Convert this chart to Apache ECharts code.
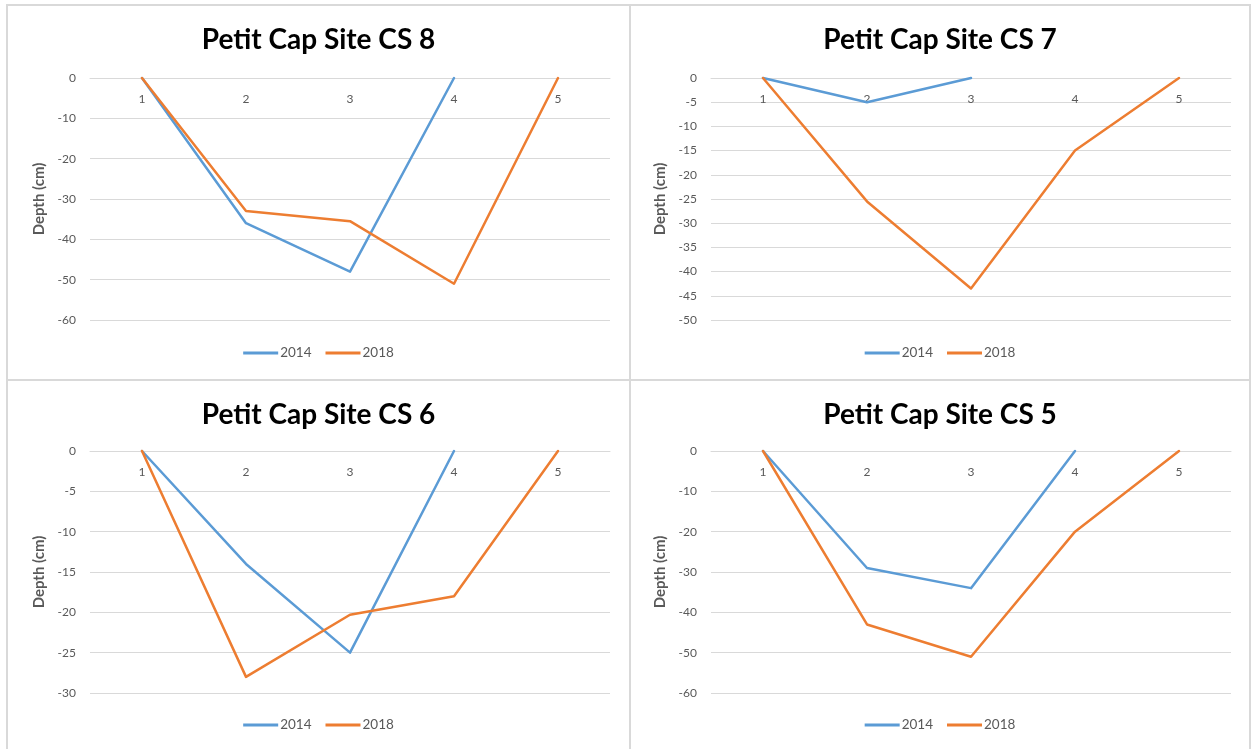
<!DOCTYPE html>
<html>
<head>
<meta charset="utf-8">
<script src="https://cdn.jsdelivr.net/npm/echarts@6/dist/echarts.min.js"></script>
<style>
body{
  margin: 0;
  background: #fff;
}
.out{
  position: relative;
  width: 1251px;
  height: 749px;
  overflow: hidden;
}
.panel{
  position: absolute;
  box-sizing: border-box;
  border: 2px solid #d9d9d9;
}
.chart{
  width: 100%;
  height: 100%;
}
</style>
</head>
<body>
<div class="out">
  <div class="panel" style="left: 6px;top: 4px;width: 625px;height: 377px">
    <div id="cs8_chart" class="chart"></div>
  </div>
  <div class="panel" style="left: 629px;top: 4px;width: 622px;height: 377px">
    <div id="cs7_chart" class="chart"></div>
  </div>
  <div class="panel" style="left: 6px;top: 379px;width: 625px;height: 374px">
    <div id="cs6_chart" class="chart"></div>
  </div>
  <div class="panel" style="left: 629px;top: 379px;width: 622px;height: 374px">
    <div id="cs5_chart" class="chart"></div>
  </div>
</div>
<script>
const categories = ['1', '2', '3', '4', '5']
const years = ['2014', '2018']

// depth values (cm), null = no point
const cs8_2014 = [0, -36, -48, 0, null]
const cs8_2018 = [0, -33, -35.5, -51, 0]
const cs7_2014 = [0, -5, 0, null, null]
const cs7_2018 = [0, -25.5, -43.5, -15, 0]
const cs6_2014 = [0, -14, -25, 0, null]
const cs6_2018 = [0, -28, -20.3, -18, 0]
const cs5_2014 = [0, -29, -34, 0, null]
const cs5_2018 = [0, -43, -51, -20, 0]

const font = 'Lato'
const gray = '#595959'

function makeOption(title, d2014, d2018, min, interval, gridLeft, gridTop) {
  const line = (name, data, color) => ({
    name: name,
    type: 'line',
    data: data,
    symbol: 'none',
    clip: false,
    lineStyle: {color: color, width: 2.5, cap: 'round', join: 'round'},
    itemStyle: {color: color}
  })
  return {
    animation: false,
    title: {
      text: title,
      left: 'center',
      top: 15,
      textStyle: {fontFamily: font, fontSize: 28, fontWeight: 'bold', color: '#000'}
    },
    legend: {
      data: years,
      bottom: 14,
      left: 'center',
      icon: 'rect',
      itemWidth: 35,
      itemHeight: 3,
      itemGap: 14,
      textStyle: {fontFamily: font, fontSize: 13.5, color: gray, padding: [0, 0, 0, -3]}
    },
    grid: {
      left: gridLeft,
      top: gridTop,
      width: 520,
      height: 242
    },
    // category labels sit just under the zero line at the top
    xAxis: {
      type: 'category',
      data: categories,
      position: 'top',
      axisLine: {lineStyle: {color: '#d9d9d9', width: 1}},
      axisTick: {show: false},
      axisLabel: {inside: true, fontFamily: font, fontSize: 12, color: gray, margin: 15}
    },
    yAxis: {
      type: 'value',
      min: min,
      max: 0,
      interval: interval,
      name: 'Depth (cm)',
      nameLocation: 'middle',
      nameGap: 36,
      nameTextStyle: {fontFamily: font, fontSize: 15, fontWeight: 'bold', color: gray},
      axisLine: {show: false},
      axisTick: {show: false},
      axisLabel: {fontFamily: font, fontSize: 12, color: gray, margin: 14},
      splitLine: {lineStyle: {color: '#d9d9d9', width: 1}}
    },
    series: [
      line(years[0], d2014, '#5b9bd5'),
      line(years[1], d2018, '#ed7d31')
    ]
  }
}

echarts.init(document.querySelector('#cs8_chart')).setOption(makeOption('Petit Cap Site CS 8', cs8_2014, cs8_2018, -60, 10, 82, 72))
echarts.init(document.querySelector('#cs7_chart')).setOption(makeOption('Petit Cap Site CS 7', cs7_2014, cs7_2018, -50, 5, 80, 72))
echarts.init(document.querySelector('#cs6_chart')).setOption(makeOption('Petit Cap Site CS 6', cs6_2014, cs6_2018, -30, 5, 82, 70))
echarts.init(document.querySelector('#cs5_chart')).setOption(makeOption('Petit Cap Site CS 5', cs5_2014, cs5_2018, -60, 10, 80, 70))
</script>
</body>
</html>
